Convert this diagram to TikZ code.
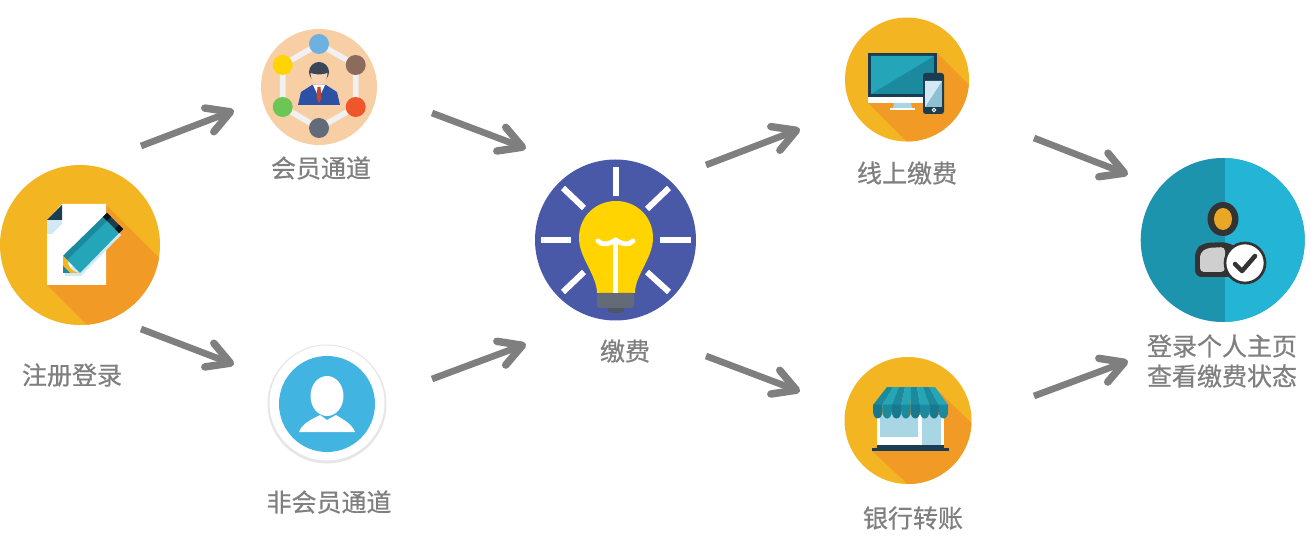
\documentclass[tikz,border=0pt]{standalone}
\usepackage{fontspec}
\newfontfamily\cjk[RawFeature={embolden=0.6}]{Noto Sans CJK SC}
\usetikzlibrary{arrows.meta}
\definecolor{sun}{HTML}{F3B622}
\definecolor{sunshadow}{HTML}{F29A26}
\definecolor{txt}{HTML}{7F7F7F}
\definecolor{navy}{HTML}{1B3D52}
\definecolor{tealmain}{HTML}{24A6B8}
\definecolor{tealdark}{HTML}{1C8A9E}
\definecolor{tealdeep}{HTML}{17788F}
\definecolor{pale}{HTML}{A9D6E5}
\definecolor{paledark}{HTML}{8FC0D2}
\definecolor{vlight}{HTML}{D2E9F5}
\definecolor{indigo}{HTML}{4A59A7}
\definecolor{bulb}{HTML}{FFD400}
\definecolor{slate}{HTML}{636B78}
\definecolor{slatedark}{HTML}{4F5663}
\definecolor{coal}{HTML}{333333}
\definecolor{peach}{HTML}{F8CFA5}
\definecolor{linkgrey}{HTML}{F1F1F1}
\definecolor{skyb}{HTML}{6EB0E0}
\definecolor{brownb}{HTML}{8B6B5B}
\definecolor{redb}{HTML}{F0562B}
\definecolor{greenb}{HTML}{6CC655}
\definecolor{suit}{HTML}{2B50A5}
\definecolor{hair}{HTML}{3B4656}
\definecolor{skin}{HTML}{F8D3B5}
\definecolor{tie}{HTML}{C8452C}
\definecolor{ringgrey}{HTML}{E6E6E6}
\definecolor{azure}{HTML}{41B4E2}
\definecolor{profleft}{HTML}{1C94AD}
\definecolor{profright}{HTML}{24B5D6}
\definecolor{gold}{HTML}{E8A825}
\definecolor{bodygrey}{HTML}{CFCFCF}
\tikzset{
  disc/.style={circle,inner sep=0pt,outer sep=0pt,minimum size=#1*0.75pt},
  lbl/.style={font=\cjk\fontsize{18.75}{22.5}\selectfont,text=txt,inner sep=0pt,align=center},
  flow/.style={draw=txt,line width=5pt,line join=round,
    -{Straight Barb[length=17pt,width=19pt,line width=5.6pt,round]}},
  ray/.style={draw=white,line width=4.5pt},
  link/.style={draw=linkgrey,line width=4.2pt},
}
\begin{document}
\begin{tikzpicture}[x=0.75pt,y=-0.75pt]
\useasboundingbox (0,0) rectangle (1316,541);
\fill[white] (0,0) rectangle (1316,541);

% --- register
\node[disc=160,fill=sun] (reg) at (80,245) {};
\begin{scope}
\clip (80,245) circle[radius=80];
\fill[sunshadow] (106,205) -- (200,299) -- (150,348) -- (110,348) -- (47,285) -- cycle;
\end{scope}
\fill[white] (62,204) -- (106,204) -- (106,285) -- (47,285) -- (47,220) -- cycle;
\fill[vlight] (47,220) -- (62,220) -- (62,224) -- (52,234) -- (47,234) -- cycle;
\fill[navy] (47,220) -- (62,205) -- (62,220) -- cycle;
\fill[vlight] (121,235) -- (81,276) -- (65,276) -- (65,272) -- (119,233) -- cycle;
\fill[tealmain] (63,256) -- (103,217) -- (119,233) -- (80,273) -- cycle;
\fill[tealdark] (63,256) -- (103,217) -- (107,221) -- (67,260) -- cycle;
\fill[navy] (103,217) -- (107,213) -- (123,229) -- (119,233) -- cycle;
\fill[black!70!navy] (103,217) -- (107,213) -- (111,217) -- (107,221) -- cycle;
\fill[black!70!navy] (115,229) -- (119,225) -- (123,229) -- (119,233) -- cycle;
\fill[sun] (63,256) -- (68,261) .. controls (68,267) and (72,272) .. (80,273) -- (63,273) -- cycle;
\fill[tealdark] (63,266) -- (70,273) -- (63,273) -- cycle;

% --- member
\node[disc=116,fill=peach] (mem) at (319,87) {};
\draw[link] (319,44) -- (355.7,65) -- (355.7,107) -- (319,128) -- (282.7,107) -- (282.7,65) -- cycle;
\node[disc=20,fill=skyb] (m1) at (319,44) {};
\node[disc=20,fill=brownb] (m2) at (355.7,65) {};
\node[disc=20,fill=redb] (m3) at (355.7,107) {};
\node[disc=20,fill=slate] (m4) at (319,128) {};
\node[disc=20,fill=greenb] (m5) at (282.7,107) {};
\node[disc=20,fill=bulb] (m6) at (282.7,65) {};
\fill[hair] (319,72) circle[radius=10];
\fill[skin] (310.5,73) .. controls (315,75) and (323,75) .. (327.5,73) .. controls (327,81) and (323,85) .. (319,85) .. controls (315,85) and (311,81) .. (310.5,73) -- cycle;
\fill[suit] (298,105) -- (301,92) -- (312,85) -- (326,85) -- (337,92) -- (340,105) -- cycle;
\fill[white] (313,85) -- (325,85) -- (319,98) -- cycle;
\fill[tie] (317.5,87) -- (320.5,87) -- (321.5,98) -- (319,103) -- (316.5,98) -- cycle;

% --- non-member
\node[disc=119,fill=ringgrey] (non) at (327,404) {};
\node[disc=115,fill=white] (non2) at (327,403) {};
\node[disc=96,fill=azure] (non3) at (327,404) {};
\fill[white] (327,396) circle[x radius=16.5,y radius=20];
\fill[white] (299,432) .. controls (302,424) and (310,420) .. (320,415) -- (327,420) -- (336,415) .. controls (344,420) and (352,424) .. (355,432) -- cycle;

% --- bulb
\node[disc=161,fill=indigo] (pay) at (615.5,240) {};
\draw[ray] (615.7,167) -- (615.7,196);
\draw[ray] (541,240) -- (571,240);
\draw[ray] (660,240) -- (691,240);
\draw[ray] (563,188) -- (584,208);
\draw[ray] (669,188) -- (647,209);
\draw[ray] (563,292) -- (584,272);
\draw[ray] (669,292) -- (647,272);
\fill[bulb] (597,293) .. controls (597,275) and (579,258) .. (579,238) .. controls (579,216) and (596,201) .. (616,201) .. controls (636,201) and (653,216) .. (653,238) .. controls (653,258) and (635,275) .. (635,293) -- cycle;
\fill[slatedark] (608,306) -- (624,306) -- (624,311) -- (620,313) -- (612,313) -- (608,311) -- cycle;
\fill[slate,rounded corners=2pt] (597,293) -- (634,293) -- (634,308) -- (597,308) -- cycle;
\draw[white,line width=3.6pt] (615.7,242) -- (615.7,293);
\draw[white,line width=3.6pt,line cap=round] (598,241) .. controls (602,246) and (610,244) .. (615.7,240) .. controls (621,244) and (629,246) .. (633,241);

% --- online
\node[disc=124,fill=sun] (onl) at (907,79.5) {};
\begin{scope}
\clip (907,79.5) circle[radius=62];
\fill[sunshadow] (937,53) -- (1000,116) -- (950,160) -- (925,160) -- (868,103) -- cycle;
\end{scope}
\fill[navy] (868,53) -- (937,53) -- (937,97) -- (868,97) -- cycle;
\fill[tealdark] (871,56) -- (934,56) -- (934,94) -- (871,94) -- cycle;
\fill[tealmain] (871,56) -- (934,56) -- (871,94) -- cycle;
\fill[white] (868,97) -- (937,97) -- (937,103) -- (868,103) -- cycle;
\fill[pale] (894,103) -- (911,103) -- (912,108) -- (893,108) -- cycle;
\fill[white] (890,108) -- (915,108) -- (915,110.5) -- (890,110.5) -- cycle;
\fill[navy,rounded corners=2pt] (923,73) -- (944,73) -- (944,114) -- (923,114) -- cycle;
\fill[paledark] (925,81) -- (942,81) -- (942,107) -- (925,107) -- cycle;
\fill[vlight] (925,81) -- (942,81) -- (925,107) -- cycle;
\draw[white,line width=0.7pt] (934,110) circle[radius=1.8];

% --- bank
\node[disc=127,fill=sun] (bank) at (908,420.5) {};
\begin{scope}
\clip (908,420.5) circle[radius=63.5];
\fill[sunshadow] (934,387) -- (1010,460) -- (960,500) -- (925,500) -- (872,451) -- cycle;
\end{scope}
\fill[white] (877,415) -- (944,415) -- (944,446) -- (877,446) -- cycle;
\fill[pale] (880,415) -- (918,415) -- (918,437) -- (880,437) -- cycle;
\fill[pale] (922,415) -- (941,415) -- (941,445) -- (922,445) -- cycle;
\fill[navy] (877,445) -- (944,445) -- (944,449) -- (877,449) -- cycle;
\fill[navy] (872,448) -- (949,448) -- (949,451) -- (872,451) -- cycle;
\foreach \i in {0,...,7}{
  \pgfmathsetmacro{\xa}{873+\i*9.4}
  \pgfmathsetmacro{\xb}{\xa+9.4}
  \pgfmathsetmacro{\ta}{887+\i*6}
  \pgfmathsetmacro{\tb}{\ta+6}
  \pgfmathtruncatemacro{\odd}{mod(\i,2)}
  \ifnum\odd=0\def\ca{tealdark}\def\cb{tealdeep}\else\def\ca{tealmain}\def\cb{tealdark}\fi
  \fill[\ca] (\ta,387) -- (\tb,387) -- (\xb,405) -- (\xa,405) -- cycle;
  \fill[\cb] (\xa,404.5) -- (\xb,404.5) -- (\xb,411) .. controls (\xb,421) and (\xa,421) .. (\xa,411) -- cycle;
}

% --- profile
\node[disc=164,fill=profleft] (prof) at (1222.7,240) {};
\begin{scope}
\clip (1222.7,240) circle[radius=82];
\fill[profright] (1225,150) rectangle (1310,330);
\end{scope}
\fill[coal] (1223,219) circle[x radius=15.5,y radius=17];
\fill[gold] (1223,219) circle[x radius=9,y radius=11];
\fill[coal,rounded corners=5pt] (1195,277) -- (1195,250) -- (1203,243) -- (1228,242) -- (1240,250) -- (1240,277) -- cycle;
\fill[bodygrey,rounded corners=3pt] (1200,272) -- (1200,253) -- (1207,248) -- (1225,247) -- (1225,272) -- cycle;
\node[disc=40,fill=white,draw=coal,line width=2pt] (chk) at (1245,263) {};
\draw[coal,line width=3.4pt,line cap=round,line join=round] (1235,264) -- (1242,271) -- (1255,256);

% --- labels
\node[lbl] (t1) at (72,375) {注册登录};
\node[lbl] (t2) at (321,168) {会员通道};
\node[lbl] (t3) at (329,502) {非会员通道};
\node[lbl] (t4) at (625,351) {缴费};
\node[lbl] (t5) at (907,173) {线上缴费};
\node[lbl] (t6) at (913,518) {银行转账};
\node[lbl] (t7) at (1222,346) {登录个人主页};
\node[lbl] (t8) at (1222,376) {查看缴费状态};

% --- connectors
\coordinate (a1) at (141,146); \coordinate (b1) at (234,110.5);
\coordinate (a2) at (141,329); \coordinate (b2) at (234,364.5);
\coordinate (a3) at (432,113); \coordinate (b3) at (526,148.5);
\coordinate (a4) at (432,379); \coordinate (b4) at (526,344);
\coordinate (a5) at (706,165); \coordinate (b5) at (800,129);
\coordinate (a6) at (706,356); \coordinate (b6) at (800,391.5);
\coordinate (a7) at (1034,138); \coordinate (b7) at (1128,174.5);
\coordinate (a8) at (1034,396); \coordinate (b8) at (1128,361);
\foreach \k in {1,...,8}{\draw[flow] (a\k) -- (b\k);}
\end{tikzpicture}
\end{document}
